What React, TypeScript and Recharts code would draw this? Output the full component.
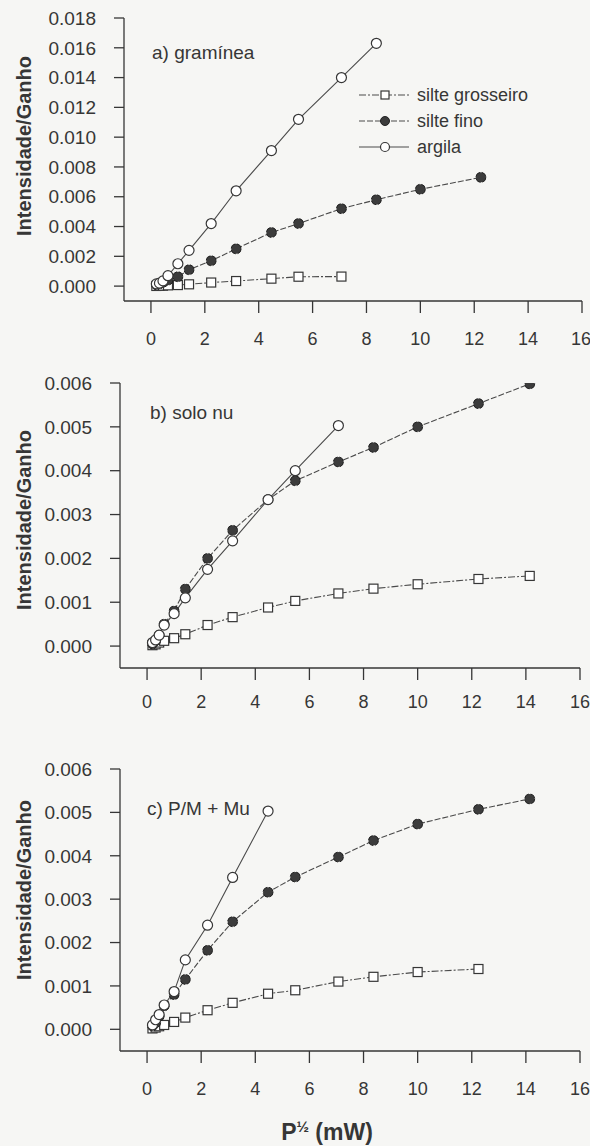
import React from "react";
import { LineChart, Line, XAxis, YAxis, Legend, Label } from "recharts";

// square root of the microwave power (mW) used for each point
const rootP = [0.2, 0.316, 0.447, 0.632, 1, 1.414, 2.236, 3.162, 4.472, 5.477, 7.071, 8.367, 10, 12.247, 14.142];
const xTicks = [0, 2, 4, 6, 8, 10, 12, 14, 16];
const yTicksA = [0, 0.002, 0.004, 0.006, 0.008, 0.01, 0.012, 0.014, 0.016, 0.018];
const yTicksBC = [0, 0.001, 0.002, 0.003, 0.004, 0.005, 0.006];

// a) gramínea
const grosseiroA = [0.00001, 0.00002, 0.00003, 0.00005, 0.00007, 0.00012, 0.00024, 0.00034, 0.0005, 0.00063, 0.00064];
const finoA = [0.0001, 0.00015, 0.00025, 0.0004, 0.00063, 0.0011, 0.0017, 0.0025, 0.0036, 0.0042, 0.0052, 0.0058, 0.0065, 0.0073];
const argilaA = [0.00015, 0.0002, 0.00035, 0.0007, 0.0015, 0.0024, 0.0042, 0.0064, 0.0091, 0.0112, 0.014, 0.0163];

// b) solo nu
const grosseiroB = [0.00002, 0.00004, 0.00008, 0.00012, 0.00018, 0.00027, 0.00048, 0.00066, 0.00088, 0.00103, 0.0012, 0.00131, 0.00141, 0.00153, 0.0016];
const finoB = [0.00005, 0.00012, 0.00025, 0.0005, 0.0008, 0.0013, 0.002, 0.00264, 0.00334, 0.00377, 0.0042, 0.00453, 0.005, 0.00553, 0.00598];
const argilaB = [0.00008, 0.00014, 0.00025, 0.00048, 0.00074, 0.0011, 0.00175, 0.0024, 0.00334, 0.004, 0.00503];

// c) P/M + Mu
const grosseiroC = [0.00002, 0.00004, 0.00007, 0.0001, 0.00017, 0.00027, 0.00044, 0.00061, 0.00082, 0.0009, 0.0011, 0.00121, 0.00132, 0.00139];
const finoC = [0.00008, 0.00015, 0.0003, 0.00054, 0.0008, 0.00115, 0.00182, 0.00248, 0.00316, 0.00351, 0.00397, 0.00435, 0.00473, 0.00507, 0.00531];
const argilaC = [0.0001, 0.00022, 0.00034, 0.00056, 0.00087, 0.0016, 0.0024, 0.0035, 0.00503];

const ink = "#363636";
const lineInk = "#4a4a4a";
const dashGrosseiro = "7 2 2 2";
const dashFino = "6 2";

const pts = (ys: number[]) => ys.map((y, i) => ({ x: rootP[i], y }));

const SquareDot = (props: any) => {
  const { cx, cy } = props;
  if (cx == null || cy == null) return null;
  return <rect x={cx - 4.5} y={cy - 4.5} width={9} height={9} fill="#fff" stroke={ink} strokeWidth={1.2} />;
};
const openDot = { r: 5, fill: "#fff", stroke: ink, strokeWidth: 1.2 };
const filledDot = { r: 5, fill: "#3c3c3c", stroke: "#222", strokeWidth: 1 };

const legendContent = () => {
  const rows = [
    { name: "silte grosseiro", dash: dashGrosseiro, kind: "square" },
    { name: "silte fino", dash: dashFino, kind: "filled" },
    { name: "argila", dash: undefined, kind: "open" },
  ];
  return (
    <svg width={200} height={84}>
      {rows.map((r, i) => {
        const y = 10 + i * 26;
        return (
          <g key={r.name}>
            <line x1={0} x2={50} y1={y} y2={y} stroke={lineInk} strokeDasharray={r.dash} />
            {r.kind === "square" && <rect x={22} y={y - 4} width={8} height={8} fill="#fff" stroke={ink} strokeWidth={1.2} />}
            {r.kind === "filled" && <circle cx={26} cy={y} r={4.5} fill="#3c3c3c" stroke="#222" />}
            {r.kind === "open" && <circle cx={26} cy={y} r={4.5} fill="#fff" stroke={ink} strokeWidth={1.2} />}
            <text x={58} y={y} dominantBaseline="central" fontSize={18} fill={ink}>{r.name}</text>
          </g>
        );
      })}
    </svg>
  );
};

type PanelProps = {
  top: number;
  height: number;
  marginTop: number;
  marginBottom: number;
  plotLeft: number;
  plotRight: number;
  xAxisHeight: number;
  xTickMargin: number;
  yDomain: [number, number];
  yTicks: number[];
  yLabelY: number;
  title: string;
  titleX: number;
  titleY: number;
  grosseiro: number[];
  fino: number[];
  argila: number[];
  legend?: boolean;
  xTitleY?: number;
};

const Panel = (p: PanelProps) => (
  <div style={{ position: "absolute", left: 0, top: p.top }}>
    <LineChart
      width={590}
      height={p.height}
      margin={{ top: p.marginTop, right: 590 - p.plotRight, bottom: p.marginBottom, left: 0 }}
    >
      <XAxis
        dataKey="x"
        type="number"
        domain={[-1, 16]}
        ticks={xTicks}
        allowDataOverflow
        height={p.xAxisHeight}
        tickSize={12}
        tickMargin={p.xTickMargin}
        axisLine={{ stroke: ink, strokeWidth: 1.3 }}
        tickLine={{ stroke: ink, strokeWidth: 1.3 }}
        tick={{ fill: ink, fontSize: 18 }}
      >
        {p.xTitleY != null && (
          <Label
            content={() => (
              <text x={327} y={p.xTitleY} textAnchor="middle" dominantBaseline="central" fontSize={23} fontWeight="bold" fill={ink}>
                P<tspan dy={-6} fontSize={15}>½</tspan>
                <tspan dy={6}> (mW)</tspan>
              </text>
            )}
          />
        )}
      </XAxis>
      <YAxis
        type="number"
        domain={p.yDomain}
        ticks={p.yTicks}
        allowDataOverflow
        width={p.plotLeft}
        tickSize={10}
        tickMargin={18}
        tickFormatter={(v: number) => v.toFixed(3)}
        axisLine={{ stroke: ink, strokeWidth: 1.3 }}
        tickLine={{ stroke: ink, strokeWidth: 1.3 }}
        tick={{ fill: ink, fontSize: 19 }}
      >
        <Label
          content={() => (
            <text x={24} y={p.yLabelY} transform={`rotate(-90 24 ${p.yLabelY})`} textAnchor="middle" dominantBaseline="central" fontSize={20} fontWeight="bold" fill={ink}>
              Intensidade/Ganho
            </text>
          )}
        />
        <Label
          content={() => (
            <text x={p.titleX} y={p.titleY} dominantBaseline="central" fontSize={19} fill={ink}>
              {p.title}
            </text>
          )}
        />
      </YAxis>
      {p.legend && (
        <Legend
          layout="vertical"
          align="center"
          verticalAlign="middle"
          content={legendContent}
          wrapperStyle={{ left: 359, top: 85, width: 200, height: 84 }}
        />
      )}
      <Line
        data={pts(p.grosseiro)}
        dataKey="y"
        name="silte grosseiro"
        stroke={lineInk}
        strokeWidth={1.1}
        strokeDasharray={dashGrosseiro}
        dot={SquareDot}
        isAnimationActive={false}
      />
      <Line
        data={pts(p.fino)}
        dataKey="y"
        name="silte fino"
        stroke={lineInk}
        strokeWidth={1.1}
        strokeDasharray={dashFino}
        dot={filledDot}
        isAnimationActive={false}
      />
      <Line
        data={pts(p.argila)}
        dataKey="y"
        name="argila"
        stroke={lineInk}
        strokeWidth={1.1}
        dot={openDot}
        isAnimationActive={false}
      />
    </LineChart>
  </div>
);

export default function App() {
  return (
    <div
      style={{
        position: "absolute",
        left: 0,
        top: 0,
        width: 590,
        height: 1146,
        background: "#f6f6f4",
        fontFamily: "'Liberation Sans', Arial, sans-serif",
        overflow: "hidden",
      }}
    >
      <Panel
        top={0}
        height={360}
        marginTop={18}
        marginBottom={9}
        plotLeft={124}
        plotRight={582}
        xAxisHeight={50}
        xTickMargin={19}
        yDomain={[-0.001, 0.018]}
        yTicks={yTicksA}
        yLabelY={146}
        title="a) gramínea"
        titleX={152}
        titleY={52}
        grosseiro={grosseiroA}
        fino={finoA}
        argila={argilaA}
        legend
      />
      <Panel
        top={360}
        height={360}
        marginTop={23}
        marginBottom={7}
        plotLeft={120}
        plotRight={580}
        xAxisHeight={45}
        xTickMargin={15}
        yDomain={[-0.0005, 0.006]}
        yTicks={yTicksBC}
        yLabelY={160}
        title="b) solo nu"
        titleX={150}
        titleY={52}
        grosseiro={grosseiroB}
        fino={finoB}
        argila={argilaB}
      />
      <Panel
        top={720}
        height={426}
        marginTop={49}
        marginBottom={0}
        plotLeft={120}
        plotRight={580}
        xAxisHeight={95}
        xTickMargin={19}
        yDomain={[-0.0005, 0.006]}
        yTicks={yTicksBC}
        yLabelY={170}
        title="c) P/M + Mu"
        titleX={147}
        titleY={88}
        grosseiro={grosseiroC}
        fino={finoC}
        argila={argilaC}
        xTitleY={412}
      />
    </div>
  );
}
